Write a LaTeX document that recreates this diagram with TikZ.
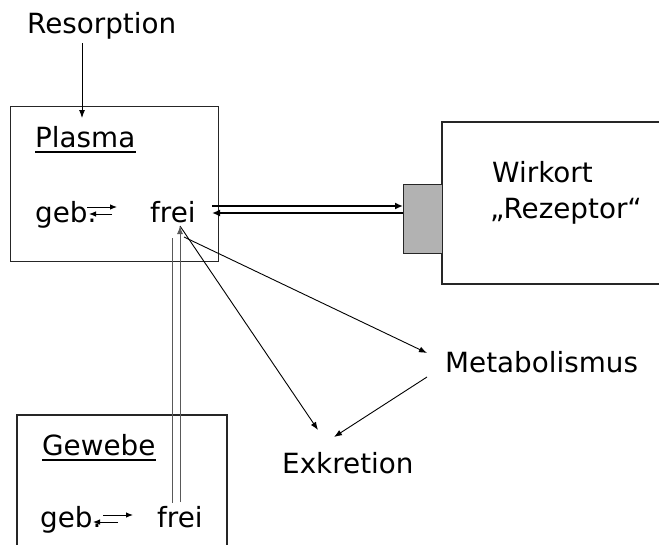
\documentclass[tikz,border=0pt]{standalone}
\usepackage{fontspec}
\setmainfont{DejaVu Sans}
\usetikzlibrary{arrows.meta,calc}
\begin{document}
\begin{tikzpicture}[x=1pt,y=-1pt,
  lbl/.style={anchor=base west,inner sep=0pt,font=\fontsize{27.8}{30}\selectfont},
  boxline/.style={draw=black!85,line width=1.2pt},
  thin/.style={line width=0.9pt,-{Latex[length=8pt,width=6pt]}},
  thick/.style={line width=2.8pt,-{Latex[length=8pt,width=7pt]}},
  small/.style={line width=0.9pt,-{Latex[length=7pt,width=5.5pt]}},
  dline/.style={draw=black!65,line width=1pt}]
\useasboundingbox (0,0) rectangle (659,544);
% boxes
\node[boxline,minimum width=208pt,minimum height=155pt,inner sep=0pt,anchor=north west] (plasmabox) at (10,106) {};
\draw[boxline] (659,122) -- (442,122) -- (442,284) -- (659,284);
\node[boxline,fill=black!30,minimum width=39pt,minimum height=69pt,inner sep=0pt,anchor=north west] (rez) at (403,184) {};
\draw[boxline] (17,545) -- (17,415) -- (227,415) -- (227,545);
% texts
\node[lbl] (resorption) at (27,33) {Resorption};
\node[lbl] (plasma) at (35,147) {Plasma};
\node[lbl] (geb1) at (35,222) {geb.};
\node[lbl] (frei1) at (150,222) {frei};
\node[lbl] (wirkort) at (492,182) {Wirkort};
\node[lbl] (rezeptor) at (490,218) {„Rezeptor“};
\node[lbl] (metab) at (445,372) {Metabolismus};
\node[lbl] (exkr) at (282,473) {Exkretion};
\node[lbl] (gewebe) at (42,455) {Gewebe};
\node[lbl] (geb2) at (40,527) {geb.};
\node[lbl] (frei2) at (157,527) {frei};
% underlines
\draw[line width=2pt] ($(plasma.base west)+(0,5)$) -- ($(plasma.base east)+(0,5)$);
\draw[line width=2pt] ($(gewebe.base west)+(0,5)$) -- ($(gewebe.base east)+(0,5)$);
% coordinates
\coordinate (rs) at (82,43);
\coordinate (rt) at (82,118);
\coordinate (fa) at (212,206);
\coordinate (fb) at (212,213);
\coordinate (ra) at (403,206);
\coordinate (rb) at (403,213);
\coordinate (ftip) at (180,226);
\coordinate (fm) at (184,237);
\coordinate (mtip) at (427,353);
\coordinate (etip) at (318,430);
\coordinate (ms) at (427,377);
\coordinate (etip2) at (334,437);
\coordinate (v1a) at (172,238);
\coordinate (v1b) at (172,503);
\coordinate (v2b) at (180,502);
% connectors
\draw[thin] (rs) -- (rt);
\draw[thick] (fa) -- (ra);
\draw[thick] (rb) -- (fb);
\draw[thin] (fm) -- (mtip);
\draw[thin] (ftip) -- (etip);
\draw[thin] (ms) -- (etip2);
\draw[dline] (v1a) -- (v1b);
\draw[dline,-{Latex[length=8pt,width=6pt]}] (v2b) -- (ftip);
% small equilibrium arrows
\draw[small] (87,207) -- (117,207);
\draw[small] (112,214) -- (89,214);
\draw[small] (103,515) -- (133,515);
\draw[small] (118,522) -- (93,522);
\end{tikzpicture}
\end{document}
